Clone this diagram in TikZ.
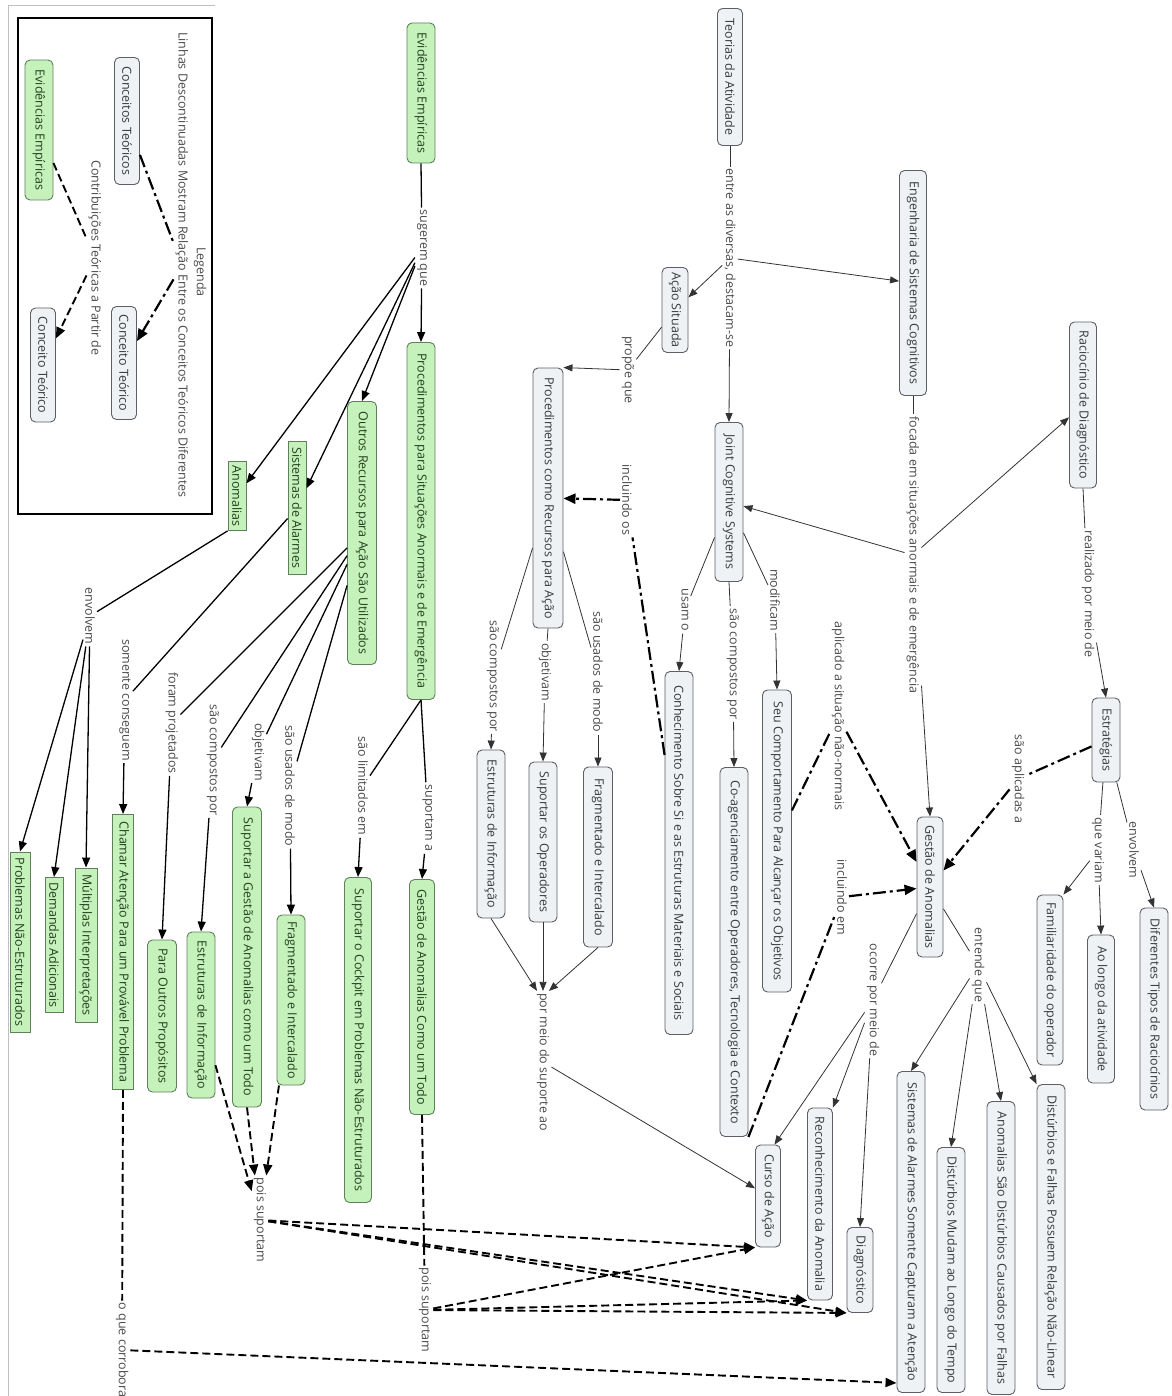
\documentclass[tikz,border=0pt]{standalone}
\usepackage{fontspec}
\setmainfont{Open Sans}
\usetikzlibrary{arrows.meta,calc}
\definecolor{gfill}{HTML}{C4F2BA}
\definecolor{gdraw}{HTML}{617F5D}
\definecolor{gtext}{HTML}{243F20}
\definecolor{bfill}{HTML}{EEF2F5}
\definecolor{bdraw}{HTML}{5C6066}
\definecolor{btext}{HTML}{3A3A3A}
\definecolor{ltext}{HTML}{4A4A4A}
\definecolor{lcol}{HTML}{333333}
\tikzset{
  nbase/.style={rotate=-90, font=\fontsize{12.5}{14}\selectfont, inner xsep=4pt, inner ysep=0pt},
  gc/.style={nbase, rounded corners=5pt, fill=bfill, draw=bdraw, line width=0.9pt, text=btext},
  grc/.style={nbase, rounded corners=5pt, fill=gfill, draw=gdraw, line width=0.9pt, text=gtext},
  grr/.style={nbase, fill=gfill, draw=gdraw, line width=0.9pt, text=gtext},
  lbl/.style={rotate=-90, font=\fontsize{12.5}{14}\selectfont, text=ltext, inner xsep=2pt, inner ysep=2pt},
  ln/.style={draw=lcol, line width=0.8pt},
  ar/.style={ln, -{Triangle[length=9pt,width=7pt]}},
  lnk/.style={draw=black, line width=1.3pt},
  ark/.style={lnk, -{Triangle[length=10pt,width=8pt]}},
  dashdot/.style={draw=black, line width=2.2pt, dash pattern=on 13pt off 4pt on 3pt off 4pt},
  dashdota/.style={dashdot, -{Triangle[length=12pt,width=10pt]}},
  dsh/.style={draw=black, line width=1.9pt, dash pattern=on 8pt off 4pt},
  dsha/.style={dsh, -{Triangle[length=11pt,width=9pt]}},
}
\begin{document}
\begin{tikzpicture}[x=1pt,y=-1pt]
\useasboundingbox (0,0) rectangle (1171,1396);
\fill[white] (0,0) rectangle (1171,1396);
\draw[black!25, line width=0.6pt] (8,1396) -- (8,5) -- (215,5);

% ---------------- Legend ----------------
\draw[black, line width=2pt] (18,18) rectangle (212,514);
\node[lbl] (leg) at (200,272) {Legenda};
\node[lbl] (llin) at (182,265) {Linhas Descontinuadas Mostram Relação Entre os Conceitos Teóricos Diferentes};
\node[lbl] (lcon) at (95,258) {Contribuições Teóricas a Partir de};
\node[gc, minimum width=127pt, minimum height=25pt] (lct) at (127,121) {Conceitos Teóricos};
\node[grc, minimum width=140pt, minimum height=28pt] (lee) at (39,130) {Evidências Empíricas};
\node[gc, minimum width=113pt, minimum height=25pt] (lc1) at (124,363) {Conceito Teórico};
\node[gc, minimum width=114pt, minimum height=25pt] (lc2) at (43,365) {Conceito Teórico};

% ---------------- Green concepts ----------------
\node[grc, minimum width=140pt, minimum height=28pt] (evid) at (421,93) {Evidências Empíricas};
\node[grc, minimum width=357pt, minimum height=28pt] (psae) at (421,521) {Procedimentos para Situações Anormais e de Emergência};
\node[grc, minimum width=263pt, minimum height=29pt] (outros) at (362,533) {Outros Recursos para Ação São Utilizados};
\node[grr, minimum width=133pt, minimum height=18pt] (sa) at (297,508) {Sistemas de Alarmes};
\node[grr, minimum width=68pt, minimum height=18pt] (anom) at (237,496) {Anomalias};
\node[grr, minimum width=180pt, minimum height=20pt] (pne) at (20,942) {Problemas Não-Estruturados};
\node[grr, minimum width=135pt, minimum height=18pt] (da) at (54,945) {Demandas Adicionais};
\node[grr, minimum width=154pt, minimum height=22pt] (mi) at (86,945) {Múltiplas Interpretações};
\node[grr, minimum width=275pt, minimum height=21pt] (chamar) at (123,952) {Chamar Atenção Para um Provável Problema};
\node[grc, minimum width=152pt, minimum height=29pt] (pop) at (162,1016) {Para Outros Propósitos};
\node[grc, minimum width=166pt, minimum height=28pt] (est1) at (201,1015) {Estruturas de Informação};
\node[grc, minimum width=300pt, minimum height=29pt] (sg) at (247,957) {Suportar a Gestão de Anomalias como um Todo};
\node[grc, minimum width=170pt, minimum height=28pt] (frag1) at (291,1000) {Fragmentado e Intercalado};
\node[grc, minimum width=325pt, minimum height=27pt] (cockpit) at (358,1040) {Suportar o Cockpit em Problemas Não-Estruturados};
\node[grc, minimum width=235pt, minimum height=25pt] (gat) at (422,997) {Gestão de Anomalias Como um Todo};

% ---------------- Gray concepts ----------------
\node[gc, minimum width=137pt, minimum height=25pt] (teorias) at (730,77) {Teorias da Atividade};
\node[gc, minimum width=85pt, minimum height=26pt] (as) at (675,310) {Ação Situada};
\node[gc, minimum width=225pt, minimum height=27pt] (eng) at (913,283) {Engenharia de Sistemas Cognitivos};
\node[gc, minimum width=166pt, minimum height=27pt] (rac) at (1083,405) {Raciocínio de Diagnóstico};
\node[gc, minimum width=260pt, minimum height=30pt] (procrec) at (548,498) {Procedimentos como Recursos para Ação};
\node[gc, minimum width=159pt, minimum height=28pt] (jcs) at (729,502) {Joint Cognitive Systems};
\node[gc, minimum width=168pt, minimum height=28pt] (estg) at (491,834) {Estruturas de Informação};
\node[gc, minimum width=160pt, minimum height=28pt] (supop) at (543,842) {Suportar os Operadores};
\node[gc, minimum width=180pt, minimum height=29pt] (fragg) at (598,857) {Fragmentado e Intercalado};
\node[gc, minimum width=363pt, minimum height=28pt] (conh) at (679,853) {Conhecimento Sobre Si e as Estruturas Materiais e Sociais};
\node[gc, minimum width=369pt, minimum height=28pt] (coag) at (734,952) {Co-agenciamento entre Operadores, Tecnologia e Contexto};
\node[gc, minimum width=302pt, minimum height=29pt] (seu) at (777,841) {Seu Comportamento Para Alcançar os Objetivos};
\node[gc, minimum width=140pt, minimum height=26pt] (gda) at (930,887) {Gestão de Anomalias};
\node[gc, minimum width=84pt, minimum height=28pt] (estr) at (1106,740) {Estratégias};
\node[gc, minimum width=170pt, minimum height=26pt] (fam) at (1050,980) {Familiaridade do operador};
\node[gc, minimum width=148pt, minimum height=27pt] (aolongo) at (1101,1009) {Ao longo da atividade};
\node[gc, minimum width=202pt, minimum height=28pt] (dif) at (1154,1009) {Diferentes Tipos de Raciocínios};
\node[gc, minimum width=102pt, minimum height=25pt] (curso) at (768,1196) {Curso de Ação};
\node[gc, minimum width=192pt, minimum height=25pt] (recon) at (820,1204) {Reconhecimento da Anomalia};
\node[gc, minimum width=85pt, minimum height=26pt] (diag) at (860,1270) {Diagnóstico};
\node[gc, minimum width=321pt, minimum height=28pt] (sas) at (911,1232) {Sistemas de Alarmes Somente Capturam a Atenção};
\node[gc, minimum width=245pt, minimum height=28pt] (dmt) at (951,1270) {Distúrbios Mudam ao Longo do Tempo};
\node[gc, minimum width=293pt, minimum height=28pt] (asd) at (1001,1248) {Anomalias São Distúrbios Causados por Falhas};
\node[gc, minimum width=305pt, minimum height=28pt] (dfp) at (1051,1237) {Distúrbios e Falhas Possuem Relação Não-Linear};

% ---------------- Linking phrases ----------------
\node[lbl] (sug) at (422,248) {sugerem que};
\node[lbl] (entre) at (730,258) {entre as diversas, destacam-se};
\node[lbl] (propoe) at (628,370) {propõe que};
\node[lbl] (focada) at (913,555) {focada em situações anormais e de emergência};
\node[lbl] (realizado) at (1088,594) {realizado por meio de};
\node[lbl] (incos) at (627,500) {incluindo os};
\node[lbl] (usamo) at (685,610) {usam o};
\node[lbl] (comp1) at (733,664) {são compostos por};
\node[lbl] (modif) at (775,600) {modificam};
\node[lbl] (aplicado) at (838,716) {aplicado a situação não-normais};
\node[lbl] (saoapl) at (1018,779) {são aplicadas a};
\node[lbl] (quevariam) at (1098,850) {que variam};
\node[lbl] (envolvem2) at (1134,850) {envolvem};
\node[lbl] (inclem) at (842,897) {incluindo em};
\node[lbl] (entende) at (978,965) {entende que};
\node[lbl] (ocorre) at (873,1000) {ocorre por meio de};
\node[lbl] (comp3) at (493,676) {são compostos por};
\node[lbl] (obj3) at (545,672) {objetivam};
\node[lbl] (usados3) at (598,672) {são usados de modo};
\node[lbl] (pormeio) at (543,1062) {por meio do suporte ao};
\node[lbl] (lim) at (363,786) {são limitados em};
\node[lbl] (supa) at (428,818) {suportam a};
\node[lbl] (env1) at (90,616) {envolvem};
\node[lbl] (somente) at (125,700) {somente conseguem};
\node[lbl] (foram) at (172,723) {foram projetados};
\node[lbl] (comp2) at (213,760) {são compostos por};
\node[lbl] (obj2) at (258,752) {objetivam};
\node[lbl] (usados2) at (290,786) {são usados de modo};
\node[lbl] (pois1) at (260,1220) {pois suportam};
\node[lbl] (pois2) at (425,1310) {pois suportam};
\node[lbl] (corrob) at (122,1350) {o que corrobora};

% ---------------- Legend connectors ----------------
\draw[dashdot] (lct) -- (llin);
\draw[dashdota] (llin) -- (lc1);
\draw[dsh] (lee) -- (lcon);
\draw[dsha] (lcon) -- (lc2);

% ---------------- Green-area connectors ----------------
\draw[lnk] (evid.east) -- (sug);
\draw[ark] (sug) -- (psae.west);
\draw[ark] (sug) -- (outros.west);
\draw[ark] (sug) -- (sa);
\draw[ark] (sug) -- (anom);
\draw[lnk] (psae.east) -- (lim);
\draw[ark] (lim) -- (cockpit.west);
\draw[lnk] (psae.east) -- (supa);
\draw[ark] (supa) -- (gat.west);
\draw[lnk] (sa) -- (somente);
\draw[ark] (somente) -- (chamar.west);
\draw[lnk] (anom.south east) -- (env1);
\draw[ark] (env1) -- (pne.west);
\draw[ark] (env1) -- (da.west);
\draw[ark] (env1) -- (mi.west);
\draw[lnk] (outros) -- (foram);
\draw[ark] (foram) -- (pop.west);
\draw[lnk] (outros) -- (comp2);
\draw[ark] (comp2) -- (est1.west);
\draw[lnk] (outros) -- (obj2);
\draw[ark] (obj2) -- (sg.west);
\draw[lnk] (outros) -- (usados2);
\draw[ark] (usados2) -- (frag1.west);

% ---------------- Gray-area connectors ----------------
\draw[ln] (teorias.east) -- (entre);
\draw[ar] (entre) -- (as);
\draw[ar] (entre) -- (eng);
\draw[ar] (entre) -- (jcs.west);
\draw[ln] (as) -- (propoe);
\draw[ar] (propoe) -- (procrec.north west);
\draw[ln] (eng.east) -- (focada);
\draw[ar] (focada) -- (jcs);
\draw[ar] (focada) -- (rac);
\draw[ar] (focada) -- (gda.west);
\draw[ln] (rac.east) -- (realizado);
\draw[ar] (realizado) -- (estr.west);
\draw[dashdot] (estr) -- (saoapl);
\draw[dashdota] (saoapl) -- (gda);
\draw[ln] (estr) -- (quevariam);
\draw[ar] (quevariam) -- (fam.north west);
\draw[ar] (quevariam) -- (aolongo.west);
\draw[ln] (estr) -- (envolvem2);
\draw[ar] (envolvem2) -- (dif.west);
\draw[ln] (jcs) -- (usamo);
\draw[ar] (usamo) -- (conh.west);
\draw[ln] (jcs.east) -- (comp1);
\draw[ar] (comp1) -- (coag.west);
\draw[ln] (jcs) -- (modif);
\draw[ar] (modif) -- (seu.west);
\draw[ln] (procrec) -- (comp3);
\draw[ar] (comp3) -- (estg.west);
\draw[ln] (procrec.east) -- (obj3);
\draw[ar] (obj3) -- (supop.west);
\draw[ln] (procrec) -- (usados3);
\draw[ar] (usados3) -- (fragg.west);
\draw[ar] (estg.east) -- ($(pormeio.west)+(-6,0)$);
\draw[ar] (supop.east) -- (pormeio.west);
\draw[ar] (fragg.east) -- ($(pormeio.west)+(6,0)$);
\draw[ar] (pormeio) -- (curso);
\draw[dashdot] (conh) -- (incos);
\draw[dashdota] (incos) -- (procrec);
\draw[dashdot] (seu) -- (aplicado);
\draw[dashdota] (aplicado) -- (gda);
\draw[dashdot] (coag.north east) -- (inclem);
\draw[dashdota] (inclem) -- (gda);
\draw[ln] (gda) -- (entende);
\draw[ar] (entende) -- (sas.west);
\draw[ar] (entende) -- (dmt.west);
\draw[ar] (entende) -- (asd.west);
\draw[ar] (entende) -- (dfp.south west);
\draw[ln] (gda) -- (ocorre);
\draw[ar] (ocorre) -- ($(curso.west)!0.5!(curso.north west)$);
\draw[ar] (ocorre) -- (recon.north west);
\draw[ar] (ocorre) -- (diag.west);

% ---------------- Dashed connectors ----------------
\draw[dsha] (est1) -- (pois1);
\draw[dsha] (sg.east) -- (pois1);
\draw[dsha] (frag1) -- (pois1);
\draw[dsha] (pois1) -- (curso.south east);
\draw[dsha] (pois1) -- (recon.south east);
\draw[dsha] (pois1) -- (diag.south east);
\draw[dsh] (gat.east) -- (pois2);
\draw[dsha] (pois2) -- (curso.south east);
\draw[dsha] (pois2) -- (recon.south east);
\draw[dsha] (pois2) -- (diag.south east);
\draw[dsh] (chamar.east) -- (corrob);
\draw[dsha] (corrob) -- ($(sas.south east)+(0,-10)$);
\end{tikzpicture}
\end{document}
